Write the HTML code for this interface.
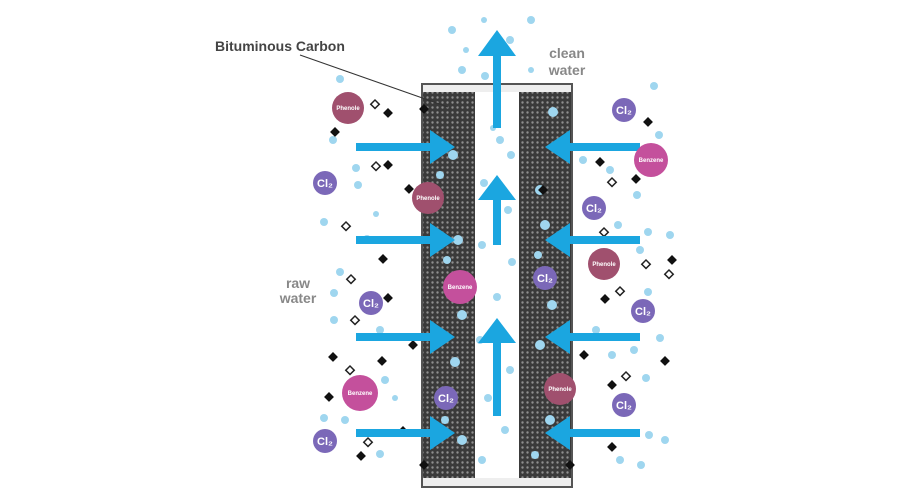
<!DOCTYPE html>
<html><head><meta charset="utf-8"><style>
html,body{margin:0;padding:0;background:#fff;width:900px;height:500px;overflow:hidden}
svg{display:block}
text{font-family:"Liberation Sans",sans-serif;font-weight:bold}
</style></head><body>
<svg width="900" height="500" viewBox="0 0 900 500" xmlns="http://www.w3.org/2000/svg">
<defs>
<pattern id="cb" width="5" height="5" patternUnits="userSpaceOnUse">
<rect width="5" height="5" fill="#3a3a3a"/><circle cx="2.5" cy="2.5" r="1.2" fill="#8f8f8f"/>
</pattern>
</defs>
<rect x="422" y="84" width="150" height="403" fill="#eee" stroke="#555" stroke-width="2"/>
<rect x="423" y="92" width="52" height="386" fill="url(#cb)"/>
<rect x="519" y="92" width="52" height="386" fill="url(#cb)"/>
<rect x="475" y="92" width="44" height="386" fill="#fff"/>
<line x1="300" y1="55" x2="448" y2="107" stroke="#333" stroke-width="1"/>
<text x="215" y="51" font-size="14" fill="#444">Bituminous Carbon</text>
<text x="567" y="58" font-size="14" fill="#888" text-anchor="middle">clean</text>
<text x="567" y="75" font-size="14" fill="#888" text-anchor="middle">water</text>
<text x="298" y="288" font-size="14" fill="#888" text-anchor="middle">raw</text>
<text x="298" y="303" font-size="14" fill="#888" text-anchor="middle">water</text>
<g fill="#9fd6ef">
<circle cx="340" cy="79" r="4"/><circle cx="333" cy="140" r="4"/><circle cx="356" cy="168" r="4"/><circle cx="358" cy="185" r="4"/><circle cx="376" cy="214" r="3"/><circle cx="324" cy="222" r="4"/><circle cx="367" cy="239" r="4"/><circle cx="340" cy="272" r="4"/><circle cx="334" cy="293" r="4"/><circle cx="334" cy="320" r="4"/><circle cx="380" cy="330" r="4"/><circle cx="385" cy="380" r="4"/><circle cx="324" cy="418" r="4"/><circle cx="345" cy="420" r="4"/><circle cx="380" cy="454" r="4"/><circle cx="395" cy="398" r="3"/>
<circle cx="452" cy="30" r="4"/><circle cx="466" cy="50" r="3"/><circle cx="531" cy="20" r="4"/><circle cx="462" cy="70" r="4"/><circle cx="484" cy="20" r="3"/><circle cx="510" cy="40" r="4"/><circle cx="531" cy="70" r="3"/><circle cx="485" cy="76" r="4"/>
<circle cx="500" cy="140" r="4"/><circle cx="493" cy="128" r="3"/><circle cx="511" cy="155" r="4"/><circle cx="484" cy="183" r="4"/><circle cx="508" cy="210" r="4"/><circle cx="482" cy="245" r="4"/><circle cx="512" cy="262" r="4"/><circle cx="497" cy="297" r="4"/><circle cx="480" cy="340" r="4"/><circle cx="510" cy="370" r="4"/><circle cx="488" cy="398" r="4"/><circle cx="505" cy="430" r="4"/><circle cx="482" cy="460" r="4"/>
<circle cx="453" cy="155" r="5"/><circle cx="440" cy="175" r="4"/><circle cx="458" cy="240" r="5"/><circle cx="447" cy="260" r="4"/><circle cx="462" cy="315" r="5"/><circle cx="455" cy="362" r="5"/><circle cx="462" cy="440" r="5"/><circle cx="445" cy="420" r="4"/>
<circle cx="553" cy="112" r="5"/><circle cx="540" cy="190" r="5"/><circle cx="545" cy="225" r="5"/><circle cx="538" cy="255" r="4"/><circle cx="552" cy="305" r="5"/><circle cx="540" cy="345" r="5"/><circle cx="550" cy="420" r="5"/><circle cx="535" cy="455" r="4"/>
<circle cx="654" cy="86" r="4"/><circle cx="659" cy="135" r="4"/><circle cx="583" cy="160" r="4"/><circle cx="610" cy="170" r="4"/><circle cx="637" cy="195" r="4"/><circle cx="618" cy="225" r="4"/><circle cx="648" cy="232" r="4"/><circle cx="670" cy="235" r="4"/><circle cx="640" cy="250" r="4"/><circle cx="648" cy="292" r="4"/><circle cx="596" cy="330" r="4"/><circle cx="612" cy="355" r="4"/><circle cx="634" cy="350" r="4"/><circle cx="660" cy="338" r="4"/><circle cx="646" cy="378" r="4"/><circle cx="665" cy="440" r="4"/><circle cx="649" cy="435" r="4"/><circle cx="620" cy="460" r="4"/><circle cx="641" cy="465" r="4"/>
</g>
<g fill="#111">
<rect x="0" y="0" width="7" height="7" transform="translate(388,108) rotate(45)"/>
<rect x="0" y="0" width="7" height="7" transform="translate(424,104) rotate(45)"/>
<rect x="0" y="0" width="7" height="7" transform="translate(335,127) rotate(45)"/>
<rect x="0" y="0" width="7" height="7" transform="translate(388,160) rotate(45)"/>
<rect x="0" y="0" width="7" height="7" transform="translate(409,184) rotate(45)"/>
<rect x="0" y="0" width="7" height="7" transform="translate(383,254) rotate(45)"/>
<rect x="0" y="0" width="7" height="7" transform="translate(388,293) rotate(45)"/>
<rect x="0" y="0" width="7" height="7" transform="translate(413,340) rotate(45)"/>
<rect x="0" y="0" width="7" height="7" transform="translate(333,352) rotate(45)"/>
<rect x="0" y="0" width="7" height="7" transform="translate(382,356) rotate(45)"/>
<rect x="0" y="0" width="7" height="7" transform="translate(329,392) rotate(45)"/>
<rect x="0" y="0" width="7" height="7" transform="translate(403,426) rotate(45)"/>
<rect x="0" y="0" width="7" height="7" transform="translate(361,451) rotate(45)"/>
<rect x="0" y="0" width="7" height="7" transform="translate(424,460) rotate(45)"/>
<rect x="0" y="0" width="7" height="7" transform="translate(648,117) rotate(45)"/>
<rect x="0" y="0" width="7" height="7" transform="translate(600,157) rotate(45)"/>
<rect x="0" y="0" width="7" height="7" transform="translate(636,174) rotate(45)"/>
<rect x="0" y="0" width="7" height="7" transform="translate(605,294) rotate(45)"/>
<rect x="0" y="0" width="7" height="7" transform="translate(672,255) rotate(45)"/>
<rect x="0" y="0" width="7" height="7" transform="translate(665,356) rotate(45)"/>
<rect x="0" y="0" width="7" height="7" transform="translate(584,350) rotate(45)"/>
<rect x="0" y="0" width="7" height="7" transform="translate(612,380) rotate(45)"/>
<rect x="0" y="0" width="7" height="7" transform="translate(612,442) rotate(45)"/>
<rect x="0" y="0" width="7" height="7" transform="translate(570,460) rotate(45)"/>
<rect x="0" y="0" width="7" height="7" transform="translate(543,185) rotate(45)"/>
</g>
<g fill="#fff" stroke="#222" stroke-width="1.5">
<rect x="0" y="0" width="6" height="6" transform="translate(375,100) rotate(45)"/>
<rect x="0" y="0" width="6" height="6" transform="translate(376,162) rotate(45)"/>
<rect x="0" y="0" width="6" height="6" transform="translate(346,222) rotate(45)"/>
<rect x="0" y="0" width="6" height="6" transform="translate(351,275) rotate(45)"/>
<rect x="0" y="0" width="6" height="6" transform="translate(355,316) rotate(45)"/>
<rect x="0" y="0" width="6" height="6" transform="translate(350,366) rotate(45)"/>
<rect x="0" y="0" width="6" height="6" transform="translate(368,438) rotate(45)"/>
<rect x="0" y="0" width="6" height="6" transform="translate(612,178) rotate(45)"/>
<rect x="0" y="0" width="6" height="6" transform="translate(604,228) rotate(45)"/>
<rect x="0" y="0" width="6" height="6" transform="translate(646,260) rotate(45)"/>
<rect x="0" y="0" width="6" height="6" transform="translate(669,270) rotate(45)"/>
<rect x="0" y="0" width="6" height="6" transform="translate(620,287) rotate(45)"/>
<rect x="0" y="0" width="6" height="6" transform="translate(626,372) rotate(45)"/>
</g>
<g fill="#1ba6e0">
<rect x="356" y="143" width="80" height="8"/><polygon points="430,130 455,147 430,164"/>
<rect x="356" y="236" width="80" height="8"/><polygon points="430,223 455,240 430,257"/>
<rect x="356" y="333" width="80" height="8"/><polygon points="430,320 455,337 430,354"/>
<rect x="356" y="429" width="80" height="8"/><polygon points="430,416 455,433 430,450"/>
<rect x="562" y="143" width="78" height="8"/><polygon points="570,130 545,147 570,164"/>
<rect x="562" y="236" width="78" height="8"/><polygon points="570,223 545,240 570,257"/>
<rect x="562" y="333" width="78" height="8"/><polygon points="570,320 545,337 570,354"/>
<rect x="562" y="429" width="78" height="8"/><polygon points="570,416 545,433 570,450"/>
<rect x="493" y="48" width="8" height="80"/><polygon points="478,56 497,30 516,56"/>
<rect x="493" y="190" width="8" height="55"/><polygon points="478,200 497,175 516,200"/>
<rect x="493" y="332" width="8" height="84"/><polygon points="478,343 497,318 516,343"/>
</g>
<g font-size="6" fill="#fff" text-anchor="middle">
<circle cx="348" cy="108" r="16" fill="#a0506e"/><text x="348" y="110">Phenole</text>
<circle cx="428" cy="198" r="16" fill="#a0506e"/><text x="428" y="200">Phenole</text>
<circle cx="604" cy="264" r="16" fill="#a0506e"/><text x="604" y="266">Phenole</text>
<circle cx="560" cy="389" r="16" fill="#a0506e"/><text x="560" y="391">Phenole</text>
<circle cx="460" cy="287" r="17" fill="#c4509c"/><text x="460" y="289">Benzene</text>
<circle cx="360" cy="393" r="18" fill="#c4509c"/><text x="360" y="395">Benzene</text>
<circle cx="651" cy="160" r="17" fill="#c4509c"/><text x="651" y="162">Benzene</text>
</g>
<g font-size="11" fill="#fff" text-anchor="middle">
<circle cx="325" cy="183" r="12" fill="#7b68b8"/><text x="325" y="187">Cl₂</text>
<circle cx="371" cy="303" r="12" fill="#7b68b8"/><text x="371" y="307">Cl₂</text>
<circle cx="446" cy="398" r="12" fill="#7b68b8"/><text x="446" y="402">Cl₂</text>
<circle cx="325" cy="441" r="12" fill="#7b68b8"/><text x="325" y="445">Cl₂</text>
<circle cx="624" cy="110" r="12" fill="#7b68b8"/><text x="624" y="114">Cl₂</text>
<circle cx="594" cy="208" r="12" fill="#7b68b8"/><text x="594" y="212">Cl₂</text>
<circle cx="545" cy="278" r="12" fill="#7b68b8"/><text x="545" y="282">Cl₂</text>
<circle cx="643" cy="311" r="12" fill="#7b68b8"/><text x="643" y="315">Cl₂</text>
<circle cx="624" cy="405" r="12" fill="#7b68b8"/><text x="624" y="409">Cl₂</text>
</g>
</svg>
</body></html>
